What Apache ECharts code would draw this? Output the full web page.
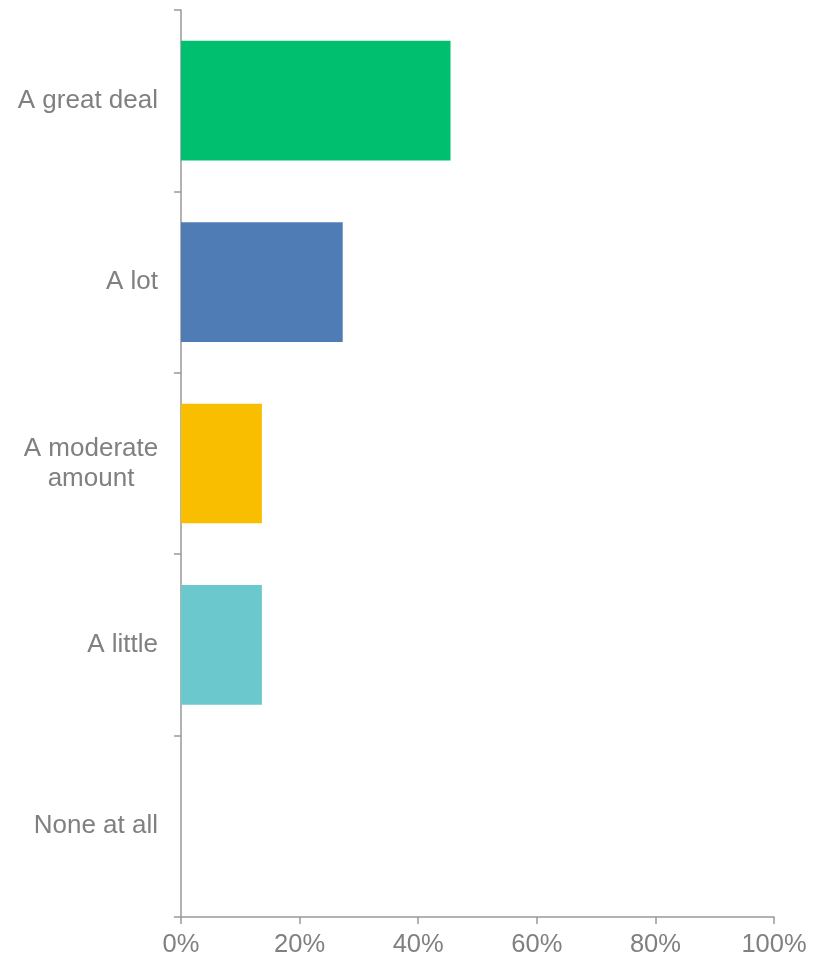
<!DOCTYPE html>
<html>
<head>
<meta charset="utf-8">
<script src="https://cdn.jsdelivr.net/npm/echarts@6/dist/echarts.min.js"></script>
<style>html,body{margin:0;padding:0;background:#fff}#c{width:813px;height:959px}</style>
</head>
<body>
<div id="c"></div>
<script>
const categories = ["A great deal", "A lot", "A moderate\namount", "A little", "None at all"];
const values = [45.45, 27.27, 13.64, 13.64, 0];
const colors = ["#00BF6F", "#507CB6", "#F9BE00", "#6BC8CD", "#D25F90"];
const xTicks = [0, 20, 40, 60, 80, 100];

const chart = echarts.init(document.getElementById('c'));
chart.setOption({
  animation: false,
  grid: { left: 181, right: 39, top: 10, bottom: 42, containLabel: false },
  xAxis: {
    type: 'value', min: xTicks[0], max: xTicks[xTicks.length - 1], interval: 20,
    axisLine: { show: true, lineStyle: { color: '#999', width: 1.5 } },
    axisTick: { show: true, length: 7, lineStyle: { color: '#999', width: 1.5 } },
    splitLine: { show: false },
    axisLabel: { formatter: v => v + '%', color: '#808080', fontSize: 25.5, fontFamily: 'Liberation Sans, Arial', margin: 15 }
  },
  yAxis: {
    type: 'category', inverse: true,
    data: categories.map(c => c.indexOf('\n') >= 0
      ? { value: c, textStyle: { align: 'center', padding: [0, 134, 0, 0] } }
      : c),
    axisLine: { show: true, lineStyle: { color: '#999', width: 1.5 } },
    axisTick: { show: true, length: 7, lineStyle: { color: '#999', width: 1.5 } },
    axisLabel: { color: '#808080', fontSize: 26, fontFamily: 'Liberation Sans, Arial', margin: 23, lineHeight: 30, align: 'right' }
  },
  series: [{
    type: 'bar',
    barCategoryGap: '34%',
    data: values.map((v, i) => ({ value: v, itemStyle: { color: colors[i] } }))
  }]
});
</script>
</body>
</html>
